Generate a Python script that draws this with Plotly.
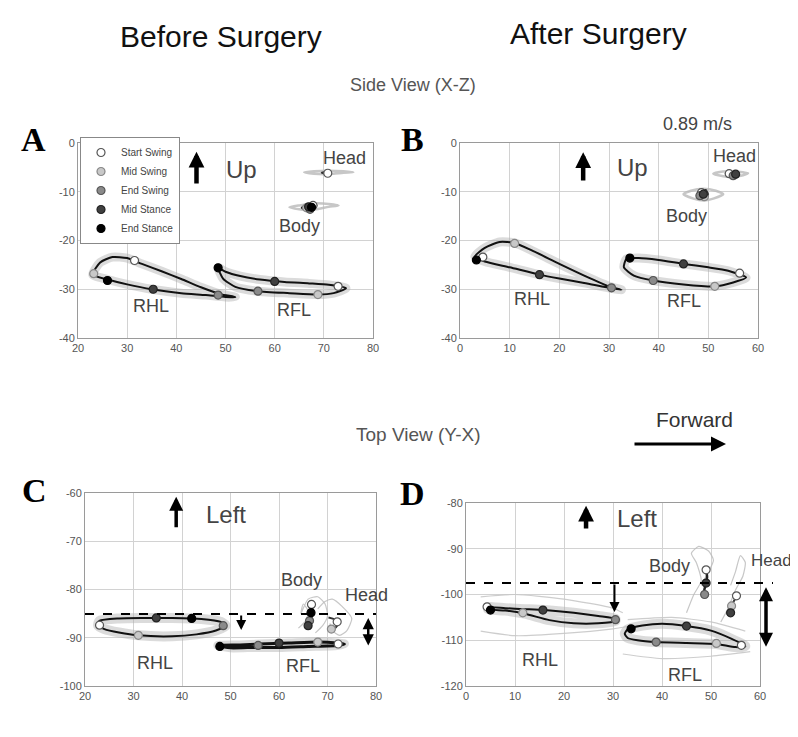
import plotly.graph_objects as go

W, H = 798, 737

# ---------------- data ----------------
EVENTS = ["Start Swing", "Mid Swing", "End Swing", "Mid Stance", "End Stance"]

# tick values per panel (x, y)
a_xticks = [20, 30, 40, 50, 60, 70, 80]
a_yticks = [-40, -30, -20, -10, 0]
b_xticks = [0, 10, 20, 30, 40, 50, 60]
b_yticks = [-40, -30, -20, -10, 0]
c_xticks = [20, 30, 40, 50, 60, 70, 80]
c_yticks = [-100, -90, -80, -70, -60]
d_xticks = [0, 10, 20, 30, 40, 50, 60]
d_yticks = [-120, -110, -100, -90, -80]

# Panel A - side view, before surgery
a_rhl_x = [23, 24.5, 27, 30, 33, 37, 41, 45, 49, 52, 50, 46, 41, 35, 30, 26, 23]
a_rhl_y = [-27, -24.5, -23.4, -23.6, -24.8, -26.3, -27.9, -29.6, -31, -31.6, -31.6, -31.2, -30.8, -30, -29, -28, -27]
a_rfl_x = [48.5, 50, 53, 57, 62, 67, 71, 74.5, 72, 68.8, 63, 56.6, 52, 49.5, 48.5]
a_rfl_y = [-25.6, -26.4, -27.3, -28, -28.5, -28.8, -29.1, -29.8, -30.8, -31.1, -30.8, -30.4, -29.5, -27.8, -25.6]
a_head_gx = [66, 68, 70, 72, 74, 76, 74, 71, 68, 66]
a_head_gy = [-6, -6.3, -6.4, -6.3, -6.1, -6, -5.8, -5.7, -5.8, -6]
a_head_x = [69.5, 70.5, 71.5, 70.8, 69.5]
a_head_y = [-6.1, -6.4, -6.2, -5.9, -6.1]
a_body_gx = [63, 65, 67, 69, 71, 73, 71, 68, 65, 63]
a_body_gy = [-13.2, -13.6, -13.8, -13.5, -13.1, -12.8, -12.5, -12.4, -12.8, -13.2]
a_body_x = [65.5, 66.5, 68, 68.5, 67, 65.5]
a_body_y = [-13.3, -13.8, -13.5, -12.8, -12.6, -13.3]
a_ev_x = [[31.5, 72.9, 70.8, 67.8], [23.2, 68.8, 66.5], [48.5, 56.6, 67.2], [35.3, 60, 66.9], [26, 48.5, 67.5]]
a_ev_y = [[-24.1, -29.4, -6.2, -12.8], [-26.8, -31.1, -13.3], [-31.2, -30.4, -13.6], [-30.0, -28.4, -13.1], [-28.2, -25.6, -13.2]]

# Panel B - side view, after surgery
b_rhl_x = [3, 5, 8, 11, 15, 20, 25, 30, 32.5, 30.5, 25, 20, 16, 10, 5, 3]
b_rhl_y = [-23.3, -21.5, -20.3, -20.5, -22.3, -24.8, -27.2, -29.4, -30.1, -29.8, -28.7, -27.8, -27, -25.5, -24.3, -23.3]
b_rfl_x = [33.5, 36, 40, 45, 50, 54, 57.6, 55, 51.3, 45, 38.9, 35, 33, 33.5]
b_rfl_y = [-23.8, -23.6, -24, -24.8, -25.5, -26.2, -27.6, -28.6, -29.4, -29, -28.2, -27.2, -25.5, -23.8]
b_head_gx = [51, 53, 55, 57, 58, 56, 54, 52, 51]
b_head_gy = [-6.3, -6.8, -6.9, -6.6, -6.2, -5.9, -5.8, -6, -6.3]
b_head_x = [53.5, 54.5, 55.8, 55.2, 53.5]
b_head_y = [-6.3, -6.8, -6.4, -6, -6.3]
b_body_gx = [45, 47, 49, 51, 53, 51.5, 49, 46.5, 45]
b_body_gy = [-10.5, -11.4, -11.8, -11.4, -10.5, -9.8, -9.4, -9.8, -10.5]
b_body_x = [48, 49.5, 50, 49.5, 48.3, 48]
b_body_y = [-10, -9.6, -10.6, -11.4, -11.2, -10]
b_ev_x = [[4.6, 56.3, 54.2, 48.6], [11, 51.3, 49.2], [30.5, 38.9, 48.3, 55], [16, 45, 49, 55.5], [3.3, 34.2]]
b_ev_y = [[-23.4, -26.7, -6.3, -10.2], [-20.6, -29.4, -11], [-29.7, -28.2, -10.8, -6.7], [-27, -24.8, -10.5, -6.4], [-24, -23.6]]

# Panel C - top view, before surgery
c_rhl_x = [23, 27, 32, 38, 44, 48, 49, 47, 43, 38, 31, 27, 24, 22.7, 23]
c_rhl_y = [-86.5, -86, -85.9, -85.9, -86.1, -86.7, -87.5, -88.5, -89.3, -89.7, -89.5, -88.9, -88.2, -87.5, -86.5]
c_rfl_x = [47.4, 52, 56, 62, 68, 72, 73.5, 72, 66, 60, 55, 50, 47.4]
c_rfl_y = [-91.6, -91.5, -91.3, -91.1, -90.9, -91.1, -91.3, -91.6, -91.8, -92, -92, -92.1, -91.6]
c_clut1_x = [64, 65.5, 66, 65, 64.5, 66, 68, 69.5, 70, 69, 67.5]
c_clut1_y = [-88, -86.5, -84.5, -83, -85, -82, -81.5, -83, -85.5, -87.5, -89]
c_clut2_x = [68, 69.5, 71, 73, 75, 74, 72.5, 71, 70.5]
c_clut2_y = [-84, -82.5, -82, -83.5, -86, -88.5, -89.5, -88.5, -87]
c_body_x = [66.7, 66.9, 66.5, 66.1, 66.3]
c_body_y = [-83.1, -84.8, -86.5, -87.5, -88.3]
c_head_x = [70.2, 71.5, 72.2, 71.6, 70.6]
c_head_y = [-85.8, -86.2, -87, -88, -88.4]
c_ev_x = [[23, 72.2, 72, 66.7], [31, 68, 70.8], [48.5, 55.7, 66.3], [34.7, 60, 66], [42, 47.8, 66.6]]
c_ev_y = [[-87.4, -91.3, -86.7, -83.1], [-89.5, -90.9, -88.2], [-87.5, -91.6, -86.5], [-85.9, -91.1, -87.5], [-86, -91.8, -84.8]]
c_midline_y = -85.1

# Panel D - top view, after surgery
d_rhl_x = [4.5, 8, 12, 16, 22, 27, 30.5, 30.5, 27, 22, 17, 12, 8, 4.5, 4.5]
d_rhl_y = [-102.8, -103, -103.2, -103.4, -104, -104.7, -105.3, -105.8, -106.3, -106.3, -105.6, -104.2, -103.5, -103.2, -102.8]
d_rfl_x = [33, 36, 40, 45, 50, 54, 57, 55, 51.1, 45, 38.8, 35, 33, 32.4, 33]
d_rfl_y = [-107.6, -106.8, -106.4, -106.9, -107.9, -109.6, -111.3, -111.5, -110.8, -110.6, -110.4, -110, -109.5, -108.6, -107.6]
d_trial1_x = [3, 10, 20, 30, 32]
d_trial1_y = [-100.5, -100, -101, -103, -104]
d_trial2_x = [3, 10, 20, 30, 33]
d_trial2_y = [-108, -109, -108.5, -107.5, -107]
d_trial3_x = [32, 40, 50, 58]
d_trial3_y = [-113, -114, -113.5, -112.5]
d_trial4_x = [33, 42, 50, 57]
d_trial4_y = [-105.5, -105, -106, -108]
d_clut1_x = [45, 46.5, 48, 47, 46, 47.5, 49.5, 50.5, 49.5, 48]
d_clut1_y = [-104, -100, -97, -93, -91, -89.5, -90.5, -92.5, -95, -98]
d_clut2_x = [52, 53.5, 55, 56.5, 57, 56, 55, 54]
d_clut2_y = [-106, -103, -99, -96, -93, -91.5, -95, -98]
d_body_x = [49, 49.2, 48.9, 48.6, 48.8]
d_body_y = [-94.6, -96.2, -97.8, -99.3, -100.4]
d_head_x = [55.5, 55, 54.4, 54, 54.3]
d_head_y = [-100, -100.8, -102, -103.3, -104.5]
d_ev_x = [[4.3, 56.2, 55.2, 49], [11.6, 51.1, 54.2], [30.5, 38.8, 48.7], [15.7, 45, 49, 54], [5, 33.7]]
d_ev_y = [[-102.7, -111.1, -100.3, -94.6], [-104, -110.7, -102.5], [-105.5, -110.4, -100], [-103.4, -106.9, -97.5, -104], [-103.4, -107.5]]
d_midline_y = -97.5

# ---------------- styling ----------------
SANS = "Liberation Sans, Arial, sans-serif"
SERIF = "Liberation Serif, Times New Roman, serif"
EV_FILL = ["#ffffff", "#c8c8c8", "#8a8a8a", "#404040", "#000000"]
EV_LINE = ["#555555", "#888888", "#555555", "#222222", "#000000"]

PANELS = [
    dict(k="", xdom=(70, 365), ydom=(135, 330), xr=[20, 80], yr=[-40, 0], xt=a_xticks, yt=a_yticks),
    dict(k="2", xdom=(452, 750), ydom=(135, 330), xr=[0, 60], yr=[-40, 0], xt=b_xticks, yt=b_yticks),
    dict(k="3", xdom=(77, 368), ydom=(485, 678), xr=[20, 80], yr=[-100, -60], xt=c_xticks, yt=c_yticks),
    dict(k="4", xdom=(458, 752), ydom=(495, 678), xr=[0, 60], yr=[-120, -80], xt=d_xticks, yt=d_yticks),
]

fig = go.Figure()


def ax(i):
    k = PANELS[i]["k"]
    return "x" + k, "y" + k


def line(i, x, y, color, width, dash=None):
    xa, ya = ax(i)
    fig.add_trace(go.Scatter(x=x, y=y, mode="lines", xaxis=xa, yaxis=ya, showlegend=False,
                             hoverinfo="skip", line=dict(color=color, width=width, dash=dash,
                                                         shape="spline", smoothing=0.6)))


halo = "rgba(175,175,175,0.45)"
faint = "rgba(185,185,185,0.8)"

# Panel A
line(0, a_rhl_x, a_rhl_y, halo, 9)
line(0, a_rfl_x, a_rfl_y, halo, 9)
line(0, a_head_gx, a_head_gy, faint, 2.5)
line(0, a_body_gx, a_body_gy, faint, 2.5)
line(0, a_rhl_x, a_rhl_y, "#111", 2)
line(0, a_rfl_x, a_rfl_y, "#111", 2)
line(0, a_head_x, a_head_y, "#333", 1.5)
line(0, a_body_x, a_body_y, "#222", 2)
# Panel B
line(1, b_rhl_x, b_rhl_y, halo, 9)
line(1, b_rfl_x, b_rfl_y, halo, 9)
line(1, b_head_gx, b_head_gy, faint, 2.5)
line(1, b_body_gx, b_body_gy, faint, 2.5)
line(1, b_rhl_x, b_rhl_y, "#111", 2)
line(1, b_rfl_x, b_rfl_y, "#111", 2)
line(1, b_head_x, b_head_y, "#222", 2)
line(1, b_body_x, b_body_y, "#333", 1.5)
# Panel C
line(2, c_rhl_x, c_rhl_y, halo, 10)
line(2, c_rfl_x, c_rfl_y, halo, 9)
line(2, c_clut1_x, c_clut1_y, faint, 1.2)
line(2, c_clut2_x, c_clut2_y, faint, 1.2)
line(2, c_rhl_x, c_rhl_y, "#111", 2)
line(2, c_rfl_x, c_rfl_y, "#111", 3)
line(2, c_body_x, c_body_y, "#222", 2.5)
line(2, c_head_x, c_head_y, "#333", 2)
# Panel D
for tx, ty in [(d_trial1_x, d_trial1_y), (d_trial2_x, d_trial2_y), (d_trial3_x, d_trial3_y), (d_trial4_x, d_trial4_y)]:
    line(3, tx, ty, "rgba(200,200,200,0.9)", 1.2)
line(3, d_rhl_x, d_rhl_y, halo, 10)
line(3, d_rfl_x, d_rfl_y, halo, 10)
line(3, d_clut1_x, d_clut1_y, faint, 1.2)
line(3, d_clut2_x, d_clut2_y, faint, 1.2)
line(3, d_rhl_x, d_rhl_y, "#111", 2)
line(3, d_rfl_x, d_rfl_y, "#111", 2)
line(3, d_body_x, d_body_y, "#222", 2.5)
line(3, d_head_x, d_head_y, "#333", 2)

# event markers
for i, (exs, eys) in enumerate([(a_ev_x, a_ev_y), (b_ev_x, b_ev_y), (c_ev_x, c_ev_y), (d_ev_x, d_ev_y)]):
    xa, ya = ax(i)
    for j, name in enumerate(EVENTS):
        fig.add_trace(go.Scatter(
            x=exs[j], y=eys[j], mode="markers", name=name, xaxis=xa, yaxis=ya,
            legendgroup=name, showlegend=(i == 0), hoverinfo="name",
            marker=dict(size=8, color=EV_FILL[j], line=dict(color=EV_LINE[j], width=1.2))))

# axes
layout_axes = {}
for i, p in enumerate(PANELS):
    k = p["k"]
    common = dict(showgrid=True, gridcolor="#d2d2d2", gridwidth=1, zeroline=False,
                  showline=True, mirror=True, linecolor="#9a9a9a", linewidth=1,
                  ticks="", tickfont=dict(family=SANS, size=11, color="#555"),
                  automargin=False, fixedrange=True, tickmode="array")
    layout_axes["xaxis" + k] = dict(common, domain=[p["xdom"][0] / W, p["xdom"][1] / W],
                                    range=p["xr"], anchor="y" + k,
                                    tickvals=p["xt"], ticktext=[str(v) for v in p["xt"]])
    layout_axes["yaxis" + k] = dict(common, domain=[1 - p["ydom"][1] / H, 1 - p["ydom"][0] / H],
                                    range=p["yr"], anchor="x" + k,
                                    tickvals=p["yt"], ticktext=[str(v) for v in p["yt"]])

ann = []


def txt(text, x, y, size, xref="paper", yref="paper", color="#444", family=SANS, angle=0, **kw):
    if xref == "paper" and not isinstance(x, float):
        x = x / W
    if yref == "paper" and not isinstance(y, float):
        y = 1 - y / H
    ann.append(dict(text=text, x=x, y=y, xref=xref, yref=yref, showarrow=False, textangle=angle,
                    xanchor="center", yanchor="middle",
                    font=dict(family=family, size=size, color=color), **kw))


def arrow(x, y, axx, ayy, xref, yref, width, side="end", head=2, size=0.8, axref=None, ayref=None):
    ann.append(dict(text="", x=x, y=y, ax=axx, ay=ayy, xref=xref, yref=yref,
                    axref=axref or xref, ayref=ayref or yref, showarrow=True,
                    arrowhead=head, arrowsize=size, arrowwidth=width, arrowcolor="#000",
                    arrowside=side, startarrowhead=head, startarrowsize=size))


# titles
txt("Before Surgery", 213, 28, 30, color="#111")
txt("After Surgery", 590, 26, 30, color="#111")
txt("Side View (X-Z)", 405, 77, 18, color="#555")
txt("0.89 m/s", 689, 116, 18, color="#444")
txt("Top View (Y-X)", 410, 426, 19, color="#555")
txt("Forward", 686, 411, 21, color="#333")
arrow(718 / W, 1 - 436 / H, -93, 0, "paper", "paper", 3, axref="pixel", ayref="pixel", size=1)

# panel letters
for letter, (lx, ly) in zip("ABCD", [(25, 132), (404, 132), (26, 482), (404, 485)]):
    txt(f"<b>{letter}</b>", lx, ly, 34, color="#000", family=SERIF)

# axis titles
for p, ylab in zip(PANELS, ["Z-axis Pos (cm)", "Z-axis Pos (cm)", "Y-axis Pos (cm)", "Y-axis Pos (cm)"]):
    cx = (p["xdom"][0] + p["xdom"][1]) / 2
    cy = (p["ydom"][0] + p["ydom"][1]) / 2
    txt(ylab, p["xdom"][0] - 38, cy, 14, angle=-90, color="#444")
    txt("X-axis Pos (cm)", cx, p["ydom"][1] + 25, 14, color="#444")

# in-plot labels
for (t, x, y, s, i) in [
    ("Head", 74.3, -3.1, 18, 0), ("Body", 65, -17, 18, 0), ("RHL", 34.9, -33.4, 18, 0),
    ("RFL", 64, -34.2, 18, 0), ("Up", 53.2, -5.5, 24, 0),
    ("Head", 55.3, -2.7, 18, 1), ("Body", 45.6, -15, 18, 1), ("RHL", 14.4, -32.1, 18, 1),
    ("RFL", 45.2, -32.5, 18, 1), ("Up", 34.8, -5.1, 24, 1),
    ("Body", 64.6, -78, 18, 2), ("Head", 78.1, -81.1, 18, 2), ("RHL", 34.4, -95.2, 18, 2),
    ("RFL", 65, -95.9, 18, 2), ("Left", 49.1, -64.5, 24, 2),
    ("Body", 41.6, -93.8, 18, 3), ("RHL", 15, -114.3, 18, 3), ("RFL", 44.6, -117.5, 18, 3),
    ("Left", 34.8, -83.3, 24, 3),
]:
    xa, ya = ax(i)
    txt(t, float(x), float(y), s, xref=xa, yref=ya, color="#444")
txt("Head", 763, 552, 17, color="#444")

# direction arrows
arrow(44.1, -1.8, 44.1, -8.6, "x", "y", 4.5, size=0.7)
arrow(24.8, -1.9, 24.8, -8.0, "x2", "y2", 4.5, size=0.7)
arrow(38.8, -60.8, 38.8, -67.4, "x3", "y3", 3.5, size=0.8)
arrow(24.5, -80.6, 24.5, -85.9, "x4", "y4", 4.5, size=0.7)
# offsets relative to the midline
arrow(52.2, -88.4, 52.2, c_midline_y, "x3", "y3", 2, size=1)
arrow(78.4, -91.6, 78.4, -85.6, "x3", "y3", 2.5, side="end+start", size=0.9)
arrow(30.3, -103.8, 30.3, d_midline_y, "x4", "y4", 2, size=1)
arrow(758 / W, -111.4, 0, -61, "paper", "y4", 3.5, side="end+start", axref="pixel", ayref="pixel", size=0.8)

shapes = [
    dict(type="line", xref="x3", yref="y3", x0=20, x1=80, y0=c_midline_y, y1=c_midline_y,
         line=dict(color="#000", width=2, dash="dash")),
    dict(type="line", xref="paper", yref="y4", x0=458 / W, x1=765 / W, y0=d_midline_y, y1=d_midline_y,
         line=dict(color="#000", width=2, dash="dash")),
]

fig.update_layout(
    width=W, height=H, margin=dict(l=0, r=0, t=0, b=0),
    paper_bgcolor="white", plot_bgcolor="white",
    font=dict(family=SANS),
    annotations=ann, shapes=shapes,
    legend=dict(x=72 / W, y=1 - 129 / H, xanchor="left", yanchor="top", bgcolor="white",
                bordercolor="#888", borderwidth=1, font=dict(family=SANS, size=10, color="#444"),
                tracegroupgap=0, itemwidth=30, traceorder="normal"),
    **layout_axes,
)

fig.write_html("out.html", config={"displayModeBar": False})
